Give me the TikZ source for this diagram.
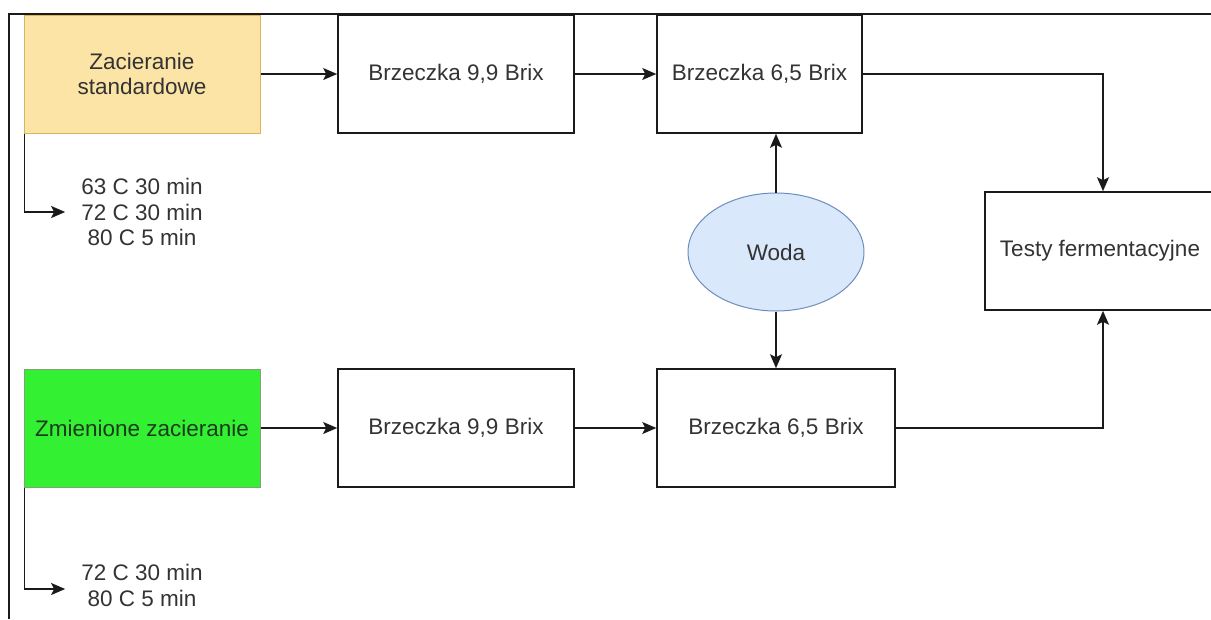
\documentclass[tikz,border=0pt]{standalone}
\usepackage{fontspec}
\setmainfont{Liberation Sans}
\usetikzlibrary{arrows.meta,shapes.geometric}
\definecolor{txt}{HTML}{333333}
\definecolor{yelfill}{HTML}{FCE4A6}
\definecolor{yelline}{HTML}{D6B656}
\definecolor{grnfill}{HTML}{33F033}
\definecolor{grnline}{HTML}{82A07A}
\definecolor{grntxt}{HTML}{1C3A1C}
\definecolor{blufill}{HTML}{DAE8FC}
\definecolor{bluline}{HTML}{6C8EBF}
\definecolor{edge}{HTML}{1A1A1A}
\tikzset{
  lbl/.style={font=\fontsize{22.5}{25.5}\selectfont, text=txt, align=center, inner sep=0pt},
  box/.style={lbl, draw=edge, line width=1.6pt, fill=white, rectangle},
  arr/.style={draw=edge, line width=1.6pt, -{Stealth[length=14pt,width=12pt,inset=3pt]}},
}
\begin{document}
\begin{tikzpicture}[x=1pt,y=-1pt]
\useasboundingbox (0,0) rectangle (1211,619);
% frame
\draw[edge, line width=1.8pt] (9,619) -- (9,14) -- (1211,14);
% top row
\node[lbl, rectangle, draw=yelline, fill=yelfill, line width=1pt, minimum width=236pt, minimum height=118pt] (zs) at (142,74) {Zacieranie\\standardowe};
\node[box, minimum width=236pt, minimum height=118pt] (b1) at (456,74) {Brzeczka 9,9 Brix};
\node[box, minimum width=205pt, minimum height=118pt] (b2) at (759.5,74) {Brzeczka 6,5 Brix};
% water
\node[lbl, ellipse, draw=bluline, fill=blufill, line width=1pt, minimum width=176pt, minimum height=118pt] (w) at (776,252) {Woda};
% tests
\node[box, minimum width=230pt, minimum height=118pt] (t) at (1100,251) {Testy fermentacyjne};
% bottom row
\node[lbl, rectangle, draw=grnline, fill=grnfill, line width=1pt, text=grntxt, minimum width=236pt, minimum height=118pt] (zz) at (142,428) {Zmienione zacieranie};
\node[box, minimum width=236pt, minimum height=118pt] (b3) at (456,428) {Brzeczka 9,9 Brix};
\node[box, minimum width=238pt, minimum height=118pt] (b4) at (776,428) {Brzeczka 6,5 Brix};
% step texts
\node[lbl] (s1) at (142,212) {63 C 30 min\\72 C 30 min\\80 C 5 min};
\node[lbl] (s2) at (142,585.5) {72 C 30 min\\80 C 5 min};
\coordinate (s1in) at ([xshift=-16pt]s1.west);
\coordinate (s2in) at ([xshift=-16pt,yshift=-3.5pt]s2.west);
% connectors
\draw[arr] (zs.east) -- (b1.west);
\draw[arr] (b1.east) -- (b2.west);
\draw[arr] (b2.east) -| (t.north -| 1103,0);
\draw[arr] (w.north) -- (b2.south -| w.north);
\draw[arr] (w.south) -- (b4.north -| w.south);
\draw[arr] (zz.east) -- (b3.west);
\draw[arr] (b3.east) -- (b4.west);
\draw[arr] (b4.east) -| (t.south -| 1103,0);
\draw[arr] ([xshift=1pt]zs.south west) |- (s1in);
\draw[arr] ([xshift=1pt]zz.south west) |- (s2in);
\end{tikzpicture}
\end{document}
